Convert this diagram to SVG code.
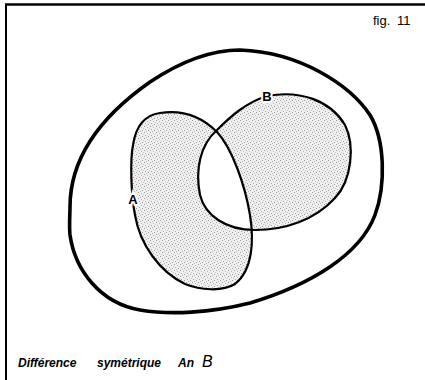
<svg xmlns="http://www.w3.org/2000/svg" width="425" height="380" viewBox="0 0 425 380">
<style>
.blob{fill:url(#stip);fill-rule:evenodd;stroke:none}
.edge{fill:none;stroke:#000;stroke-width:2.2;stroke-linejoin:round}
.lbl{font-family:"Liberation Sans",Arial,sans-serif;font-weight:bold;font-size:13px;fill:#000;text-anchor:middle;stroke:#fff;stroke-width:4;paint-order:stroke}
.cap{font-family:"Liberation Sans",Arial,sans-serif;font-weight:bold;font-style:italic;font-size:12px;fill:#000}
</style>
<defs>
<pattern id="stip" width="6" height="6" patternUnits="userSpaceOnUse">
<rect width="6" height="6" fill="#f0f0f0"/>
<rect x="0" y="0" width="1" height="1" fill="#999"/>
<rect x="3" y="1" width="1" height="1" fill="#b5b5b5"/>
<rect x="1" y="3" width="1" height="1" fill="#a5a5a5"/>
<rect x="4" y="4" width="1" height="1" fill="#999"/>
<rect x="5" y="2" width="1" height="1" fill="#c5c5c5"/>
<rect x="2" y="5" width="1" height="1" fill="#b5b5b5"/>
</pattern>
</defs>
<rect width="425" height="380" fill="#fff"/>
<g id="frame">
<line x1="5" y1="4.5" x2="425" y2="4.5" stroke="#000" stroke-width="2.5"/>
<line x1="6" y1="4" x2="6" y2="380" stroke="#000" stroke-width="2"/>
</g>
<g id="universe">
<path class="edge" style="stroke-width:3.6" d="M70,207 C70,150 110,110 150,82 C180,62 210,50 240,50 C300,52 350,85 370,115 C385,140 386,185 375,215 C360,255 310,285 250,303 C210,313 170,315 140,310 C100,303 75,270 70,235 C69,225 70,215 70,207 Z"/>
</g>
<g id="symdiff">
<path class="blob" d="M160,113 C180,110 200,115 217,132 C232,148 245,185 250,215 C254,240 253,270 235,284 C222,292 200,290 185,284 C160,272 140,245 135,215 C131,195 130,160 133,145 C136,125 145,115 160,113 Z M267,96 C300,90 330,100 345,125 C355,145 352,180 335,198 C315,220 285,230 255,230 C225,230 205,215 200,195 C195,170 200,145 217,130 C230,117 245,103 267,96 Z"/>
</g>
<g id="setA">
<path class="edge" d="M160,113 C180,110 200,115 217,132 C232,148 245,185 250,215 C254,240 253,270 235,284 C222,292 200,290 185,284 C160,272 140,245 135,215 C131,195 130,160 133,145 C136,125 145,115 160,113 Z"/>
<text class="lbl" x="133" y="204">A</text>
</g>
<g id="setB">
<path class="edge" d="M267,96 C300,90 330,100 345,125 C355,145 352,180 335,198 C315,220 285,230 255,230 C225,230 205,215 200,195 C195,170 200,145 217,130 C230,117 245,103 267,96 Z"/>
<text class="lbl" x="267" y="101">B</text>
</g>
<g id="texts">
<text x="373" y="25" font-family="Liberation Sans, Arial, sans-serif" font-size="13" fill="#000">fig.</text>
<text x="397" y="25" font-family="Liberation Sans, Arial, sans-serif" font-size="13" fill="#000">11</text>
<text class="cap" y="367"><tspan x="18">Différence</tspan><tspan x="97">symétrique</tspan><tspan x="178">An</tspan></text>
<text x="202" y="367" font-family="Liberation Sans, Arial, sans-serif" font-style="italic" font-size="16" fill="#000">B</text>
</g>
</svg>
